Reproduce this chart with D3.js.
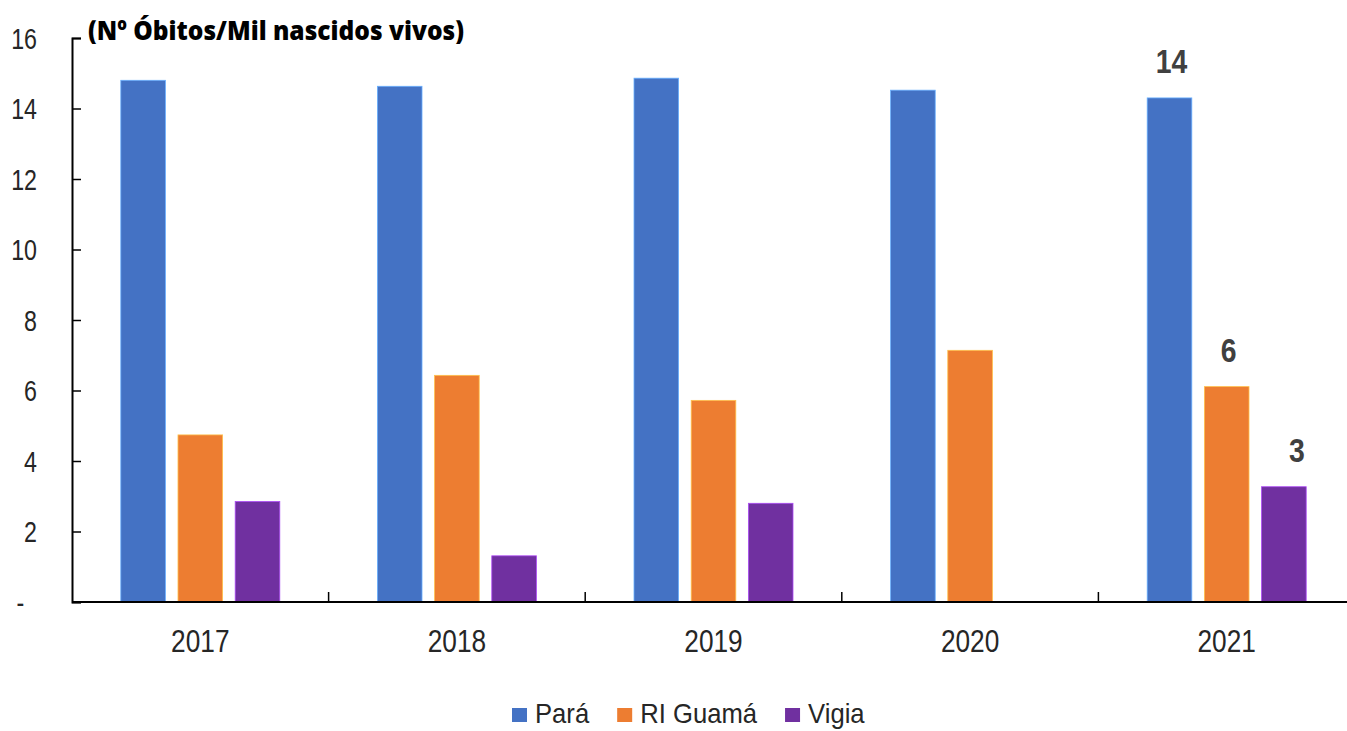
<!DOCTYPE html>
<html lang="pt">
<head>
<meta charset="utf-8">
<title>Mortalidade infantil</title>
<script src="https://d3js.org/d3.v7.min.js"></script>
<style>
  body { margin: 0; background: #fff; }
  svg { display: block; }
  .tick text, .legend text, .xlab, .value {
    font-family: "Liberation Sans", Arial, sans-serif;
    fill: #262626;
  }
  /* the original uses a narrow face: squeeze the glyphs sideways */
  .tick text {
    transform-box: fill-box;
    transform-origin: right center;
    transform: scaleX(0.8);
  }
  .xlab, .value {
    transform-box: fill-box;
    transform-origin: center center;
  }
  .xlab { transform: scaleX(0.82); }
  .value {
    font-weight: 700;
    font-size: 33px;
    fill: #404040;
    text-anchor: middle;
    transform: scaleX(0.86);
  }
  .title {
    font-family: "Open Sans", sans-serif;
    font-weight: 800;
    font-size: 27px;
    fill: #000;
  }
</style>
</head>
<body>
<svg id="chart"></svg>
<script>
// data
const years = ["2017", "2018", "2019", "2020", "2021"];
const series = ["Pará", "RI Guamá", "Vigia"];
const para = [14.80, 14.63, 14.86, 14.52, 14.30];
const riGuama = [4.74, 6.43, 5.72, 7.14, 6.11];
const vigia = [2.85, 1.31, 2.80, null, 3.27];
const colors = ["#4472C4", "#ED7D31", "#7030A0"];
const yTicks = [0, 2, 4, 6, 8, 10, 12, 14, 16];
const labelYear = "2021";   // only the last year gets value labels
const titleText = "(Nº Óbitos/Mil nascidos vivos)";

const values = [para, riGuama, vigia];

const W = 1347, H = 731;
const margin = {top: 38, right: -8, bottom: 129, left: 72};
const width = W - margin.left - margin.right;
const height = H - margin.top - margin.bottom;

const svg = d3.select("#chart").attr("width", W).attr("height", H);
const g = svg.append("g").attr("transform", `translate(${margin.left},${margin.top})`);

const x0 = d3.scaleBand().domain(years).range([0, width]);
const groupW = 159;
const x1 = d3.scaleBand().domain(series)
    .range([(x0.bandwidth() - groupW) / 2, (x0.bandwidth() + groupW) / 2])
    .paddingInner(0.22);
const y = d3.scaleLinear().domain([0, 16]).range([height, 0]);

// bars
const rows = [];
years.forEach((yr, i) => {
  series.forEach((s, j) => {
    if (values[j][i] != null) rows.push({year: yr, series: s, value: values[j][i], color: colors[j]});
  });
});

g.append("g").selectAll("rect")
  .data(rows)
  .join("rect")
  .attr("x", d => x0(d.year) + x1(d.series))
  .attr("y", d => y(d.value))
  .attr("width", x1.bandwidth())
  .attr("height", d => y(0) - y(d.value))
  .attr("fill", d => d.color)
  .attr("stroke", d => d3.color(d.color).brighter(1.2))
  .attr("stroke-width", 0.8);

// value labels for last year
g.append("g").selectAll("text")
  .data(rows.filter(d => d.year == labelYear))
  .join("text")
  .attr("class", "value")
  .attr("x", d => x0(d.year) + x1(d.series) + x1.bandwidth() / 2 + (d.series == "Vigia" ? 13 : 2))
  .attr("y", d => y(d.value) - 25)
  .text(d => d3.format(".0f")(d.value));

// y axis, ticks pointing inward
const yAxis = g.append("g")
  .call(d3.axisLeft(y).tickValues(yTicks).tickSize(-9).tickPadding(35)
        .tickFormat(d => d == 0 ? "-\u00a0\u00a0" : d));
yAxis.select(".domain").attr("stroke", "#000").attr("stroke-width", 2);
yAxis.selectAll(".tick line").attr("stroke", "#000").attr("stroke-width", 1.5);
yAxis.selectAll(".tick text").style("font-size", "29px").attr("dy", "0.36em");

// x axis line with separator ticks going up
g.append("line")
  .attr("x1", 0).attr("x2", width)
  .attr("y1", y(0)).attr("y2", y(0))
  .attr("stroke", "#000").attr("stroke-width", 2);

g.append("g").selectAll("line")
  .data(years.slice(1))
  .join("line")
  .attr("x1", d => x0(d)).attr("x2", d => x0(d))
  .attr("y1", y(0)).attr("y2", y(0) - 10)
  .attr("stroke", "#000").attr("stroke-width", 1.5);

g.append("g").selectAll("text")
  .data(years)
  .join("text")
  .attr("class", "xlab")
  .attr("x", d => x0(d) + x0.bandwidth() / 2)
  .attr("y", y(0) + 50)
  .attr("text-anchor", "middle")
  .style("font-size", "32px")
  .text(d => d);

// title
svg.append("text")
  .attr("class", "title")
  .attr("x", 88)
  .attr("y", 39.5)
  .attr("textLength", 376)
  .attr("lengthAdjust", "spacingAndGlyphs")
  .text(titleText);

// legend (kept just inside the bottom edge)
const legend = svg.append("g").attr("class", "legend");
let lx = 512;
series.forEach((s, j) => {
  legend.append("rect")
    .attr("x", lx).attr("y", 708)
    .attr("width", 15).attr("height", 14)
    .attr("fill", colors[j]);
  const t = legend.append("text")
    .attr("x", lx + 23).attr("y", 723)
    .style("font-size", "27px")
    .text(s);
  t.attr("transform", `translate(${(lx + 23) * 0.05},0) scale(0.95,1)`);
  lx += 23 + t.node().getComputedTextLength() * 0.95 + 28;
});
</script>
</body>
</html>
